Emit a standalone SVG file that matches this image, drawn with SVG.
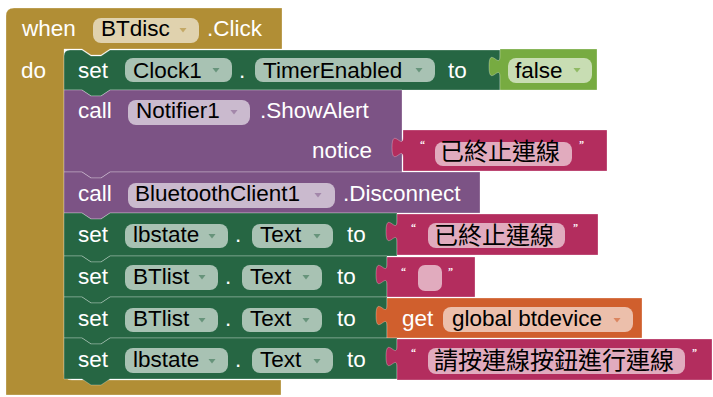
<svg xmlns="http://www.w3.org/2000/svg" width="713" height="397" viewBox="0 0 713 397">
  <style>
    .lbl { font-family: "Liberation Sans", Arial, sans-serif; font-size: 22.5px; fill: #ffffff; }
    .fld { font-family: "Liberation Sans", Arial, sans-serif; font-size: 22.5px; fill: #000000; }
    .cjk { font-family: "Liberation Sans", "Noto Sans CJK TC", sans-serif; font-size: 24px; fill: #000000; }
    .q { font-family: "Liberation Serif", serif; font-size: 10px; font-weight: bold; fill: #ffffff; }
    .box { fill: #ffffff; fill-opacity: 0.6; }
    .edge { stroke: #ffffff; stroke-opacity: 0.28; stroke-width: 1; }
    .event { fill: #B18E35; }
    .setter { fill: #266643; }
    .method { fill: #7C5385; }
    .str { fill: #B32D5E; }
    .logic { fill: #77AB41; }
    .var { fill: #D05F2D; }
    .arr-g { fill: #266643; fill-opacity: 0.5; }
    .arr-p { fill: #7C5385; fill-opacity: 0.5; }
    .arr-e { fill: #B18E35; fill-opacity: 0.6; }
    .arr-l { fill: #77AB41; fill-opacity: 0.7; }
    .arr-v { fill: #D05F2D; fill-opacity: 0.6; }
  </style>
  <defs>
    <path id="dd" d="M -3.5,-2 h 7 l -3.5,4.5 z"/>
  </defs>

  <!-- event handler: when BTdisc.Click -->
  <g id="event-btdisc-click">
    <path class="event edge" d="M 6,16 Q 6,8 14,8 H 282 V 49 H 110 l -9,6 h -10 l -9,-6 H 64 V 372 Q 64,380 72,380 H 281 V 395 H 6 Z"/>
    <text class="lbl" x="22" y="36">when</text>
    <rect class="box" x="93" y="18" width="106" height="25" rx="8"/>
    <text class="fld" x="101" y="36">BTdisc</text>
    <use href="#dd" class="arr-e" x="183" y="30"/>
    <text class="lbl" x="207" y="36">.Click</text>
    <text class="lbl" x="21" y="78">do</text>
  </g>

  <!-- set Clock1.TimerEnabled to false -->
  <g id="set-clock1">
    <path class="setter edge" d="M 64,56 Q 64,50 70,50 H 82 l 9,6 h 10 l 9,-6 H 500 V 90 H 110 l -9,6 h -10 l -9,-6 H 64 Z"/>
    <text class="lbl" x="78" y="78">set</text>
    <rect class="box" x="125" y="58" width="107" height="24" rx="8"/>
    <text class="fld" x="133" y="78">Clock1</text>
    <use href="#dd" class="arr-g" x="216" y="70"/>
    <text class="lbl" x="239" y="78">.</text>
    <rect class="box" x="255" y="58" width="180" height="24" rx="8"/>
    <text class="fld" x="263" y="78">TimerEnabled</text>
    <use href="#dd" class="arr-g" x="419" y="70"/>
    <text class="lbl" x="448" y="78">to</text>
  </g>
  <g id="false">
    <path class="logic edge" d="M 500,49 H 597 V 90 H 500 V 77 C 500,63 489,88 489,66.5 C 489,45 500,70 500,56 Z"/>
    <rect class="box" x="508" y="58" width="84" height="25" rx="8"/>
    <text class="fld" x="515" y="78">false</text>
    <use href="#dd" class="arr-l" x="577" y="70"/>
  </g>

  <!-- call Notifier1.ShowAlert -->
  <g id="call-showalert">
    <path class="method edge" d="M 64,90 H 82 l 9,6 h 10 l 9,-6 H 402 V 172 H 110 l -9,6 h -10 l -9,-6 H 64 Z"/>
    <text class="lbl" x="78" y="118">call</text>
    <rect class="box" x="128" y="100" width="122" height="25" rx="8"/>
    <text class="fld" x="136" y="118">Notifier1</text>
    <use href="#dd" class="arr-p" x="234" y="112"/>
    <text class="lbl" x="260" y="118">.ShowAlert</text>
    <text class="lbl" x="312" y="158">notice</text>
  </g>
  <g id="text-notice">
    <path class="str edge" d="M 403,130 H 607 V 171 H 403 V 158 C 403,144 392,169 392,147.5 C 392,126 403,151 403,137 Z"/>
    <text class="q" x="420" y="148">“</text>
    <rect class="box" x="435" y="142" width="137" height="24" rx="8"/>
    <text class="cjk" x="440" y="160">已終止連線</text>
    <text class="q" x="579" y="148">”</text>
  </g>

  <!-- call BluetoothClient1.Disconnect -->
  <g id="call-disconnect">
    <path class="method edge" d="M 64,172 H 82 l 9,6 h 10 l 9,-6 H 480 V 213 H 110 l -9,6 h -10 l -9,-6 H 64 Z"/>
    <text class="lbl" x="78" y="201">call</text>
    <rect class="box" x="128" y="183" width="207" height="25" rx="8"/>
    <text class="fld" x="135" y="201">BluetoothClient1</text>
    <use href="#dd" class="arr-p" x="318" y="195"/>
    <text class="lbl" x="343" y="201">.Disconnect</text>
  </g>

  <!-- set lbstate.Text to "已終止連線" -->
  <g id="set-lbstate-1">
    <path class="setter edge" d="M 64,213 H 82 l 9,6 h 10 l 9,-6 H 397 V 256 H 110 l -9,6 h -10 l -9,-6 H 64 Z"/>
    <text class="lbl" x="78" y="242">set</text>
    <rect class="box" x="125" y="224" width="103" height="24" rx="8"/>
    <text class="fld" x="133" y="242">lbstate</text>
    <use href="#dd" class="arr-g" x="212" y="236"/>
    <text class="lbl" x="235" y="242">.</text>
    <rect class="box" x="252" y="224" width="81" height="24" rx="8"/>
    <text class="fld" x="260" y="242">Text</text>
    <use href="#dd" class="arr-g" x="317" y="236"/>
    <text class="lbl" x="347" y="242">to</text>
  </g>
  <g id="text-1">
    <path class="str edge" d="M 397,214 H 598 V 255 H 397 V 242 C 397,228 386,253 386,231.5 C 386,210 397,235 397,221 Z"/>
    <text class="q" x="411" y="231">“</text>
    <rect class="box" x="428" y="223" width="137" height="25" rx="8"/>
    <text class="cjk" x="434" y="244">已終止連線</text>
    <text class="q" x="573" y="231">”</text>
  </g>

  <!-- set BTlist.Text to "" -->
  <g id="set-btlist-1">
    <path class="setter edge" d="M 64,256 H 82 l 9,6 h 10 l 9,-6 H 387 V 297 H 110 l -9,6 h -10 l -9,-6 H 64 Z"/>
    <text class="lbl" x="78" y="284">set</text>
    <rect class="box" x="125" y="265" width="93" height="25" rx="8"/>
    <text class="fld" x="133" y="284">BTlist</text>
    <use href="#dd" class="arr-g" x="202" y="277"/>
    <text class="lbl" x="225" y="284">.</text>
    <rect class="box" x="242" y="265" width="80" height="25" rx="8"/>
    <text class="fld" x="250" y="284">Text</text>
    <use href="#dd" class="arr-g" x="306" y="277"/>
    <text class="lbl" x="337" y="284">to</text>
  </g>
  <g id="text-empty">
    <path class="str edge" d="M 387,257 H 475 V 297 H 387 V 285 C 387,271 376,296 376,274.5 C 376,253 387,278 387,264 Z"/>
    <text class="q" x="401" y="275">“</text>
    <rect class="box" x="418" y="265" width="24" height="26" rx="7"/>
    <text class="q" x="448" y="275">”</text>
  </g>

  <!-- set BTlist.Text to get global btdevice -->
  <g id="set-btlist-2">
    <path class="setter edge" d="M 64,297 H 82 l 9,6 h 10 l 9,-6 H 387 V 338 H 110 l -9,6 h -10 l -9,-6 H 64 Z"/>
    <text class="lbl" x="78" y="326">set</text>
    <rect class="box" x="125" y="308" width="93" height="24" rx="8"/>
    <text class="fld" x="133" y="326">BTlist</text>
    <use href="#dd" class="arr-g" x="202" y="320"/>
    <text class="lbl" x="225" y="326">.</text>
    <rect class="box" x="242" y="308" width="80" height="24" rx="8"/>
    <text class="fld" x="250" y="326">Text</text>
    <use href="#dd" class="arr-g" x="306" y="320"/>
    <text class="lbl" x="337" y="326">to</text>
  </g>
  <g id="get-btdevice">
    <path class="var edge" d="M 387,298 H 642 V 338 H 387 V 326 C 387,312 376,337 376,315.5 C 376,294 387,319 387,305 Z"/>
    <text class="lbl" x="402" y="326">get</text>
    <rect class="box" x="443" y="307" width="190" height="25" rx="8"/>
    <text class="fld" x="452" y="326">global btdevice</text>
    <use href="#dd" class="arr-v" x="617" y="320"/>
  </g>

  <!-- set lbstate.Text to "請按連線按鈕進行連線" -->
  <g id="set-lbstate-2">
    <path class="setter edge" d="M 64,338 H 82 l 9,6 h 10 l 9,-6 H 397 V 379 H 110 l -9,6 h -10 l -9,-6 H 64 Z"/>
    <text class="lbl" x="78" y="367">set</text>
    <rect class="box" x="125" y="348" width="103" height="25" rx="8"/>
    <text class="fld" x="133" y="367">lbstate</text>
    <use href="#dd" class="arr-g" x="212" y="361"/>
    <text class="lbl" x="235" y="367">.</text>
    <rect class="box" x="252" y="348" width="81" height="25" rx="8"/>
    <text class="fld" x="260" y="367">Text</text>
    <use href="#dd" class="arr-g" x="317" y="361"/>
    <text class="lbl" x="347" y="367">to</text>
  </g>
  <g id="text-2">
    <path class="str edge" d="M 397,339 H 712 V 380 H 397 V 367 C 397,353 386,378 386,356.5 C 386,335 397,360 397,346 Z"/>
    <text class="q" x="411" y="356">“</text>
    <rect class="box" x="428" y="348" width="257" height="26" rx="8"/>
    <text class="cjk" x="434" y="369">請按連線按鈕進行連線</text>
    <text class="q" x="692" y="356">”</text>
  </g>

  <g id="connectors"></g>
</svg>
